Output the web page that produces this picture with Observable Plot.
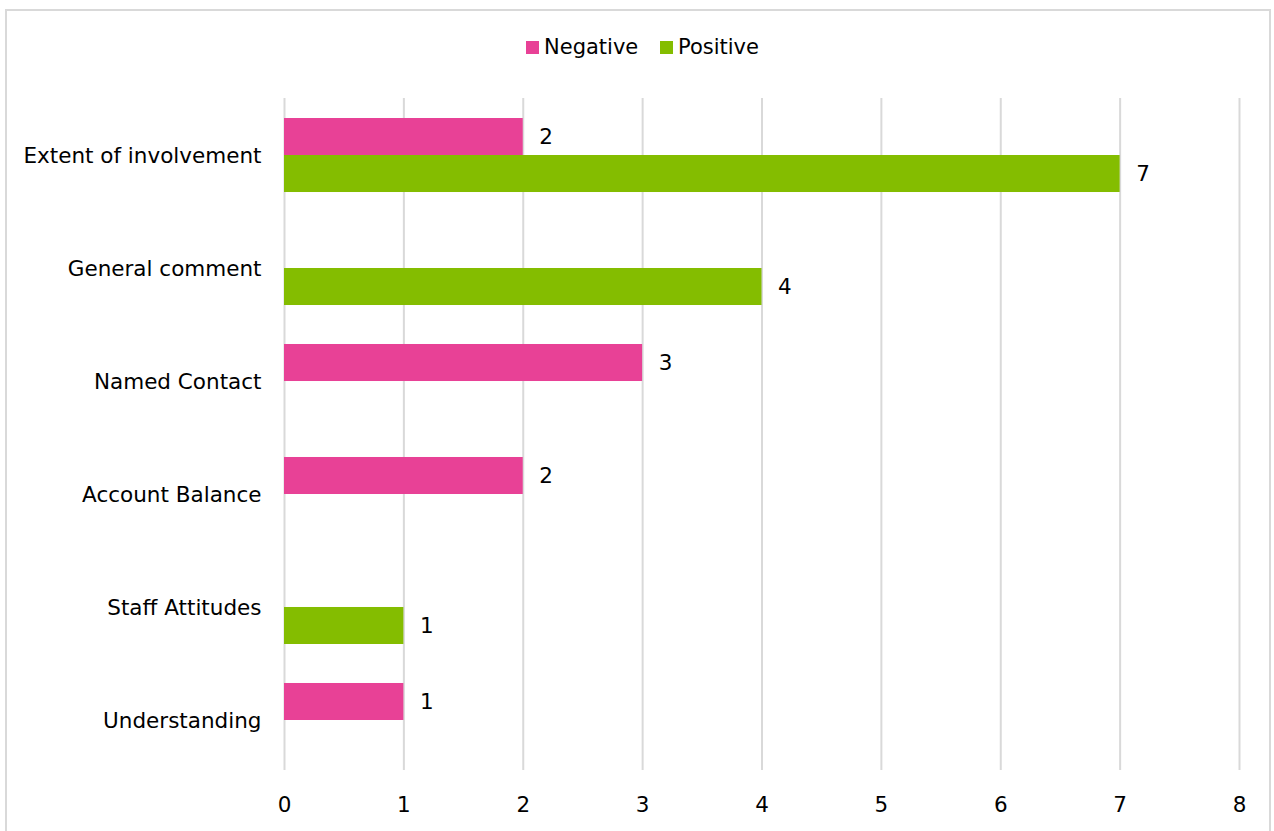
<!DOCTYPE html>
<html><head><meta charset="utf-8">
<script src="https://cdn.jsdelivr.net/npm/d3@7"></script>
<script src="https://cdn.jsdelivr.net/npm/@observablehq/plot@0.6"></script>
<style>
body{margin:0;background:#fff;font-family:"DejaVu Sans",sans-serif;color:#000;}
#wrap{position:relative;width:1274px;height:831px;overflow:hidden;background:#fff;}
#frame{position:absolute;left:5px;top:9px;width:1266px;height:900px;border:2px solid #d9d9d9;box-sizing:border-box;pointer-events:none;}
#legend{position:relative;height:90px;}
.li{position:absolute;top:35px;display:flex;align-items:center;font-size:21px;line-height:24px;}
.sw{width:13px;height:13px;margin-right:5px;display:inline-block;}
#chart{position:relative;}
</style>
</head><body>
<div id="wrap">
  <div id="frame"></div>
  <div id="legend"></div>
  <div id="chart"></div>
</div>
<script>
const categories = ["Extent of involvement","General comment","Named Contact","Account Balance","Staff Attitudes","Understanding"];
const negative = [2, null, 3, 2, null, 1];
const positive = [7, 4, null, null, 1, null];
const xTicks = [0,1,2,3,4,5,6,7,8];
const seriesNames = ["Negative","Positive"];
const seriesColors = ["#E84196","#84BD00"];

const negData = categories.map((c,i)=>({category:c, value:negative[i]})).filter(d=>d.value!=null);
const posData = categories.map((c,i)=>({category:c, value:positive[i]})).filter(d=>d.value!=null);

// legend
const legend = document.getElementById("legend");
const lefts = [526, 660];
seriesNames.forEach((s,i)=>{
  const el = document.createElement("div");
  el.className = "li";
  el.style.left = lefts[i] + "px";
  el.innerHTML = `<span class="sw" style="background:${seriesColors[i]}"></span><span>${s}</span>`;
  legend.appendChild(el);
});

const font = "DejaVu Sans, sans-serif";
const fs = 21.5;
const chart = Plot.plot({
  width: 1274,
  height: 741,
  marginLeft: 284,
  marginRight: 35,
  marginTop: 8,
  marginBottom: 61,
  style: {fontFamily: font, fontSize: fs + "px", color: "#000", background: "transparent"},
  x: {domain: [0, 8]},
  y: {domain: categories, range: [28, 667], paddingInner: 0.345, paddingOuter: 0, round: false},
  marks: [
    Plot.ruleX(xTicks, {stroke: "#d9d9d9", strokeWidth: 2}),
    Plot.barX(negData, {x: "value", y: "category", fill: seriesColors[0], insetBottom: 37}),
    Plot.barX(posData, {x: "value", y: "category", fill: seriesColors[1], insetTop: 37}),
    Plot.text(negData, {x: "value", y: "category", text: d => String(d.value), dx: 16, dy: -18.5, textAnchor: "start", fontSize: fs, fill: "#000"}),
    Plot.text(posData, {x: "value", y: "category", text: d => String(d.value), dx: 16, dy: 18.5, textAnchor: "start", fontSize: fs, fill: "#000"}),
    Plot.axisX({ticks: xTicks, tickSize: 0, tickPadding: 26, fontSize: fs, fill: "#000", label: null, tickFormat: d => String(d)}),
    Plot.axisY({tickSize: 0, tickPadding: 23, fontSize: fs, fill: "#000", label: null, dy: 1})
  ]
});
document.getElementById("chart").appendChild(chart);
</script>
</body></html>
